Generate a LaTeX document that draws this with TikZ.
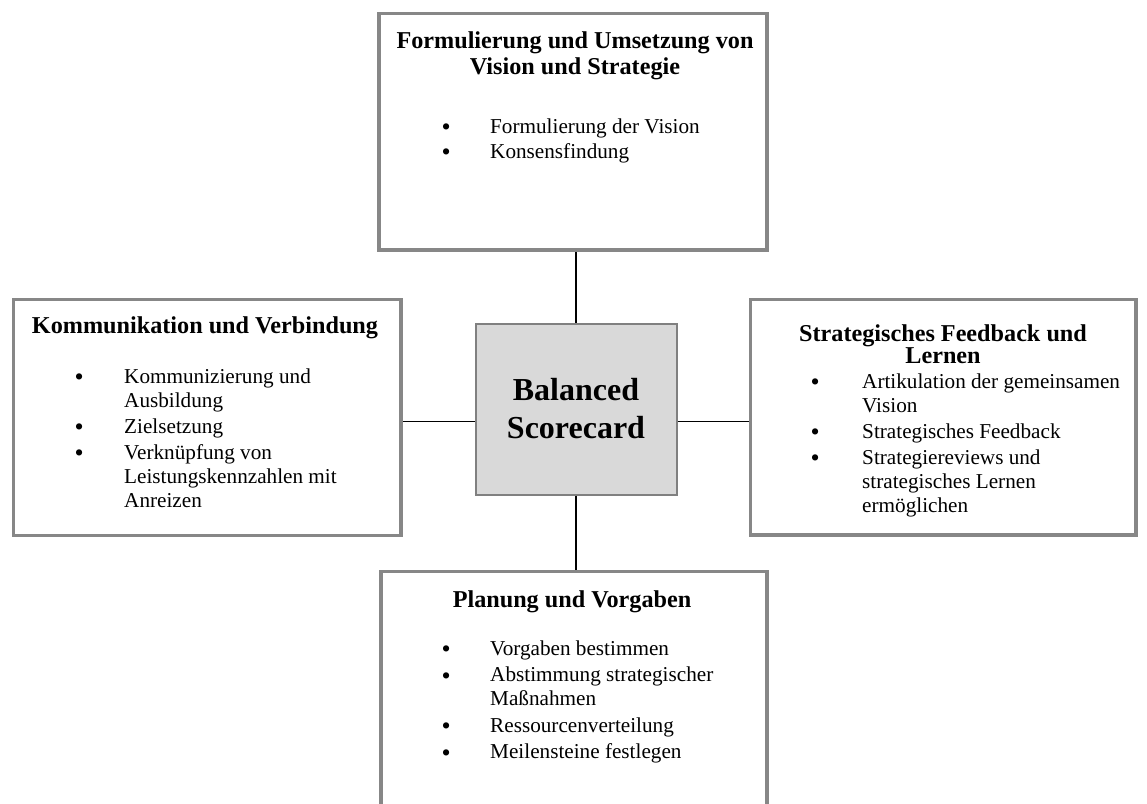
\documentclass[tikz,border=0pt]{standalone}
\usepackage{fontspec}
\setmainfont{Liberation Serif}
\definecolor{framegray}{HTML}{878787}
\definecolor{corefill}{HTML}{D9D9D9}
\definecolor{coreline}{HTML}{808080}
\newcommand\bigdot{\raisebox{-2.6pt}{\fontsize{26}{23.8}\selectfont\textbullet}}
\tikzset{
  panel/.style={draw=framegray, line width=3.5pt, fill=white, inner sep=0pt},
  core/.style={draw=coreline, line width=2pt, fill=corefill, inner sep=0pt},
  link/.style={draw=black, line width=1.6pt},
  heading/.style={inner sep=0pt, anchor=base, font=\fontsize{24.2}{26.7}\selectfont\bfseries},
  itemlist/.style={inner sep=0pt, anchor=base west, font=\fontsize{21.2}{24}\selectfont},
  coretext/.style={inner sep=0pt, anchor=base, font=\fontsize{32}{38}\selectfont\bfseries}
}
\begin{document}
\begin{tikzpicture}[x=1pt,y=-1pt]
\useasboundingbox (0,0) rectangle (1147,803);
\clip (0,0) rectangle (1147,803);

% the four perspective panels and the central box
\node[panel, minimum width=388pt, minimum height=236.5pt] (vision) at (573,131.75) {};
\node[panel, minimum width=387.5pt, minimum height=236pt] (comm) at (207.25,417.5) {};
\node[panel, minimum width=385.5pt, minimum height=235.5pt] (feedback) at (943.25,417.25) {};
\node[panel, minimum width=386pt, minimum height=258.5pt] (plan) at (574,700.75) {};
\node[core, minimum width=201pt, minimum height=171pt] (bsc) at (576,409) {};

% connectors
\draw[link] (bsc.north) -- (bsc.north |- vision.south);
\draw[link] (bsc.south) -- (bsc.south |- plan.north);
\draw[link] ([yshift=-12.5pt]bsc.west) -- ([yshift=-12.5pt]bsc.west -| comm.east);
\draw[link] ([yshift=-12.5pt]bsc.east) -- ([yshift=-12.5pt]bsc.east -| feedback.west);

% centre label
\node[coretext] (bsclabel) at (576,400) {\begin{tabular}[t]{@{}c@{}}Balanced\\Scorecard\end{tabular}};

% Formulierung und Umsetzung
\node[heading] (visionhead) at (575,48) {\begin{tabular}[t]{@{}c@{}}Formulierung und Umsetzung von\\Vision und Strategie\end{tabular}};
\node[itemlist] (visionlist) at (441.5,133) {\begin{tabular}[t]{@{}p{48.5pt}@{}l@{}}
\bigdot & Formulierung der Vision\\[1pt]
\bigdot & Konsensfindung
\end{tabular}};

% Kommunikation und Verbindung
\node[heading] (commhead) at (205,333) {Kommunikation und Verbindung};
\node[itemlist] (commlist) at (74.5,383) {\begin{tabular}[t]{@{}p{49.5pt}@{}l@{}}
\bigdot & Kommunizierung und\\
 & Ausbildung\\[2pt]
\bigdot & Zielsetzung\\[2pt]
\bigdot & Verknüpfung von\\
 & Leistungskennzahlen mit\\
 & Anreizen
\end{tabular}};

% Strategisches Feedback und Lernen
\node[heading] (feedhead) at (943,341) {\begin{tabular}[t]{@{}c@{}}Strategisches Feedback und\\[-4pt]Lernen\end{tabular}};
\node[itemlist] (feedlist) at (810.5,388) {\begin{tabular}[t]{@{}p{51.5pt}@{}l@{}}
\bigdot & Artikulation der gemeinsamen\\
 & Vision\\[2pt]
\bigdot & Strategisches Feedback\\[2pt]
\bigdot & Strategiereviews und\\
 & strategisches Lernen\\
 & ermöglichen
\end{tabular}};

% Planung und Vorgaben
\node[heading] (planhead) at (572,607) {Planung und Vorgaben};
\node[itemlist] (planlist) at (441.5,655) {\begin{tabular}[t]{@{}p{48.5pt}@{}l@{}}
\bigdot & Vorgaben bestimmen\\[2.5pt]
\bigdot & Abstimmung strategischer\\
 & Maßnahmen\\[2.5pt]
\bigdot & Ressourcenverteilung\\[2.5pt]
\bigdot & Meilensteine festlegen
\end{tabular}};
\end{tikzpicture}
\end{document}
